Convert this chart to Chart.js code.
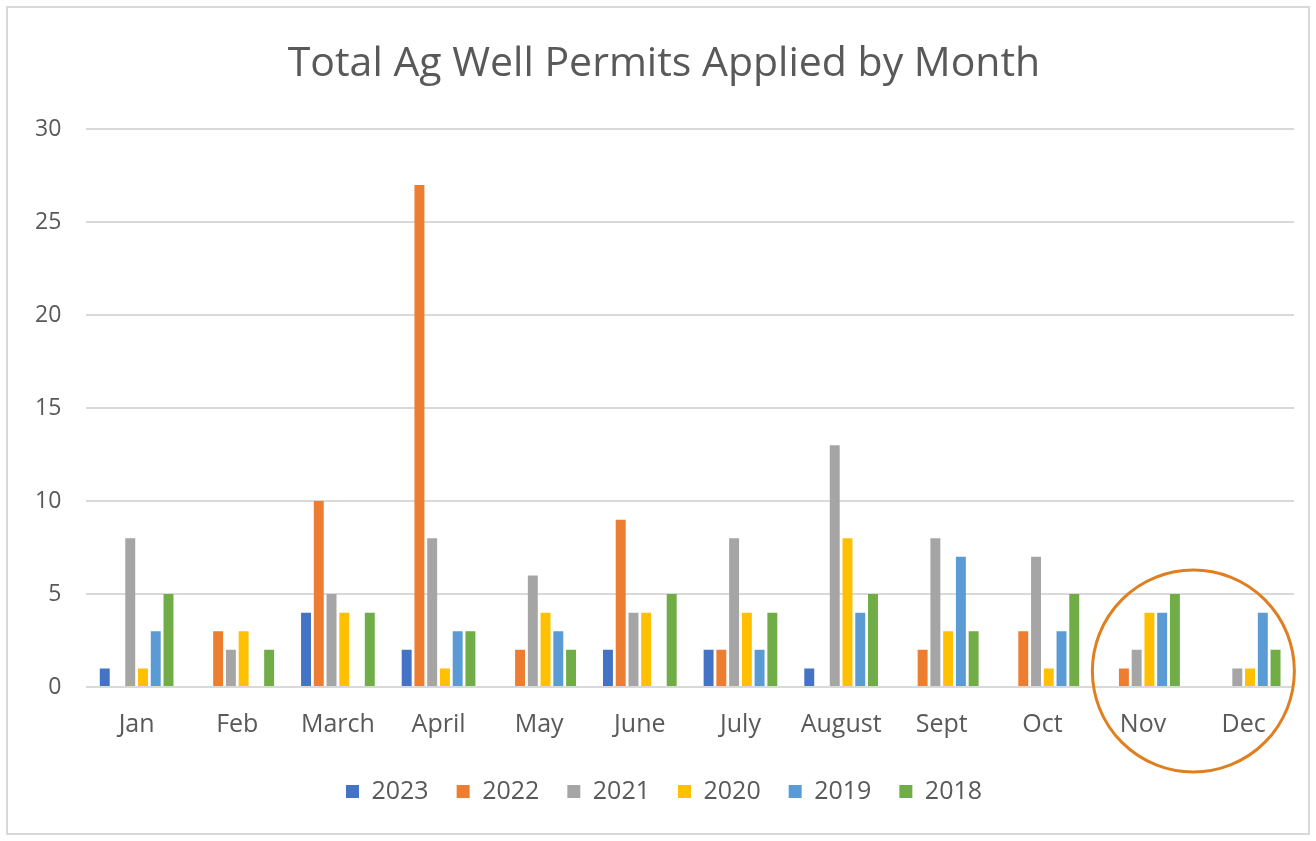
<!DOCTYPE html>
<html>
<head>
<meta charset="utf-8">
<script src="https://cdn.jsdelivr.net/npm/chart.js@4/dist/chart.umd.min.js"></script>
<style>
  body { margin: 0; background: #fff; overflow: hidden; }
  .chart-box {
    position: absolute; left: 8px; top: 8px;
    width: 1324px; height: 825px;
  }
  .frame {
    position: absolute; left: 6px; top: 6px;
    width: 1300px; height: 825px;
    border: 2px solid #d9d9d9;
    pointer-events: none;
  }
</style>
</head>
<body>
<div class="chart-box"><canvas id="permitChart"></canvas></div>
<div class="frame"></div>
<script>
// 月份和年份
const months = ['Jan', 'Feb', 'March', 'April', 'May', 'June', 'July', 'August', 'Sept', 'Oct', 'Nov', 'Dec'];
const years = ['2023', '2022', '2021', '2020', '2019', '2018'];

// 每年各月的许可数量
const permits2023 = [1, 0, 4, 2, 0, 2, 2, 1, 0, 0, 0, 0];
const permits2022 = [0, 3, 10, 27, 2, 9, 2, 0, 2, 3, 1, 0];
const permits2021 = [8, 2, 5, 8, 6, 4, 8, 13, 8, 7, 2, 1];
const permits2020 = [1, 3, 4, 1, 4, 4, 4, 8, 3, 1, 4, 1];
const permits2019 = [3, 0, 0, 3, 3, 0, 2, 4, 7, 3, 4, 4];
const permits2018 = [5, 2, 4, 3, 2, 5, 4, 5, 3, 5, 5, 2];

const yTicks = [0, 5, 10, 15, 20, 25, 30];

const seriesValues = [permits2023, permits2022, permits2021, permits2020, permits2019, permits2018];
const seriesColors = ['#4472C4', '#ED7D31', '#A5A5A5', '#FFC000', '#5B9BD5', '#70AD47'];

const textColor = '#595959';
const fontFamily = "'Open Sans', 'Liberation Sans', sans-serif";

// 在 Nov 和 Dec 之间画一个橙色圆圈
const circlePlugin = {
    id: 'circleNote',
    afterDatasetsDraw(chart) {
        const x = chart.scales.x;
        const y = chart.scales.y;
        const cx = (x.getPixelForValue(10) + x.getPixelForValue(11)) / 2;
        const cy = y.getPixelForValue(0.86);
        const ctx = chart.ctx;
        ctx.save();
        ctx.beginPath();
        ctx.arc(cx, cy, 101, 0, Math.PI * 2);
        ctx.strokeStyle = '#E07F1F';
        ctx.lineWidth = 3;
        ctx.stroke();
        ctx.restore();
    }
};

const chartData = {
    labels: months,
    datasets: years.map((yr, i) => ({
        label: yr,
        data: seriesValues[i],
        backgroundColor: seriesColors[i],
        borderWidth: 0,
        barPercentage: 0.78,
        categoryPercentage: 0.76
    }))
};

const config = {
    type: 'bar',
    data: chartData,
    options: {
        responsive: true,
        maintainAspectRatio: false,
        animation: false,
        layout: { padding: { left: 2, right: 14, top: 10, bottom: 19 } },
        plugins: {
            title: {
                display: true,
                text: 'Total Ag Well Permits Applied by Month',
                color: textColor,
                font: { family: fontFamily, size: 41, weight: 'normal' },
                padding: { top: 22, bottom: 40 }
            },
            legend: {
                position: 'bottom',
                labels: {
                    boxWidth: 13,
                    boxHeight: 13,
                    padding: 28,
                    color: textColor,
                    font: { family: fontFamily, size: 25 }
                }
            },
            tooltip: { enabled: false }
        },
        scales: {
            x: {
                grid: { display: false },
                border: { display: false },
                ticks: {
                    color: textColor,
                    padding: 15,
                    font: { family: fontFamily, size: 25 }
                },
                afterFit(axis) {
                    axis.height -= 4;
                }
            },
            y: {
                min: 0,
                max: 30,
                afterBuildTicks(axis) {
                    axis.ticks = yTicks.map(v => ({ value: v }));
                },
                grid: { color: '#d9d9d9', lineWidth: 2, drawTicks: false },
                border: { display: false },
                ticks: {
                    color: textColor,
                    padding: 25,
                    font: { family: fontFamily, size: 23 }
                }
            },
            // 右侧空白轴，只用来留出空间
            yRight: {
                position: 'right',
                grid: { display: false },
                border: { display: false },
                ticks: { display: false },
                afterFit(axis) {
                    axis.width = 24;
                }
            }
        }
    },
    plugins: [circlePlugin]
};

const myChart = new Chart(document.getElementById('permitChart'), config);
</script>
</body>
</html>
